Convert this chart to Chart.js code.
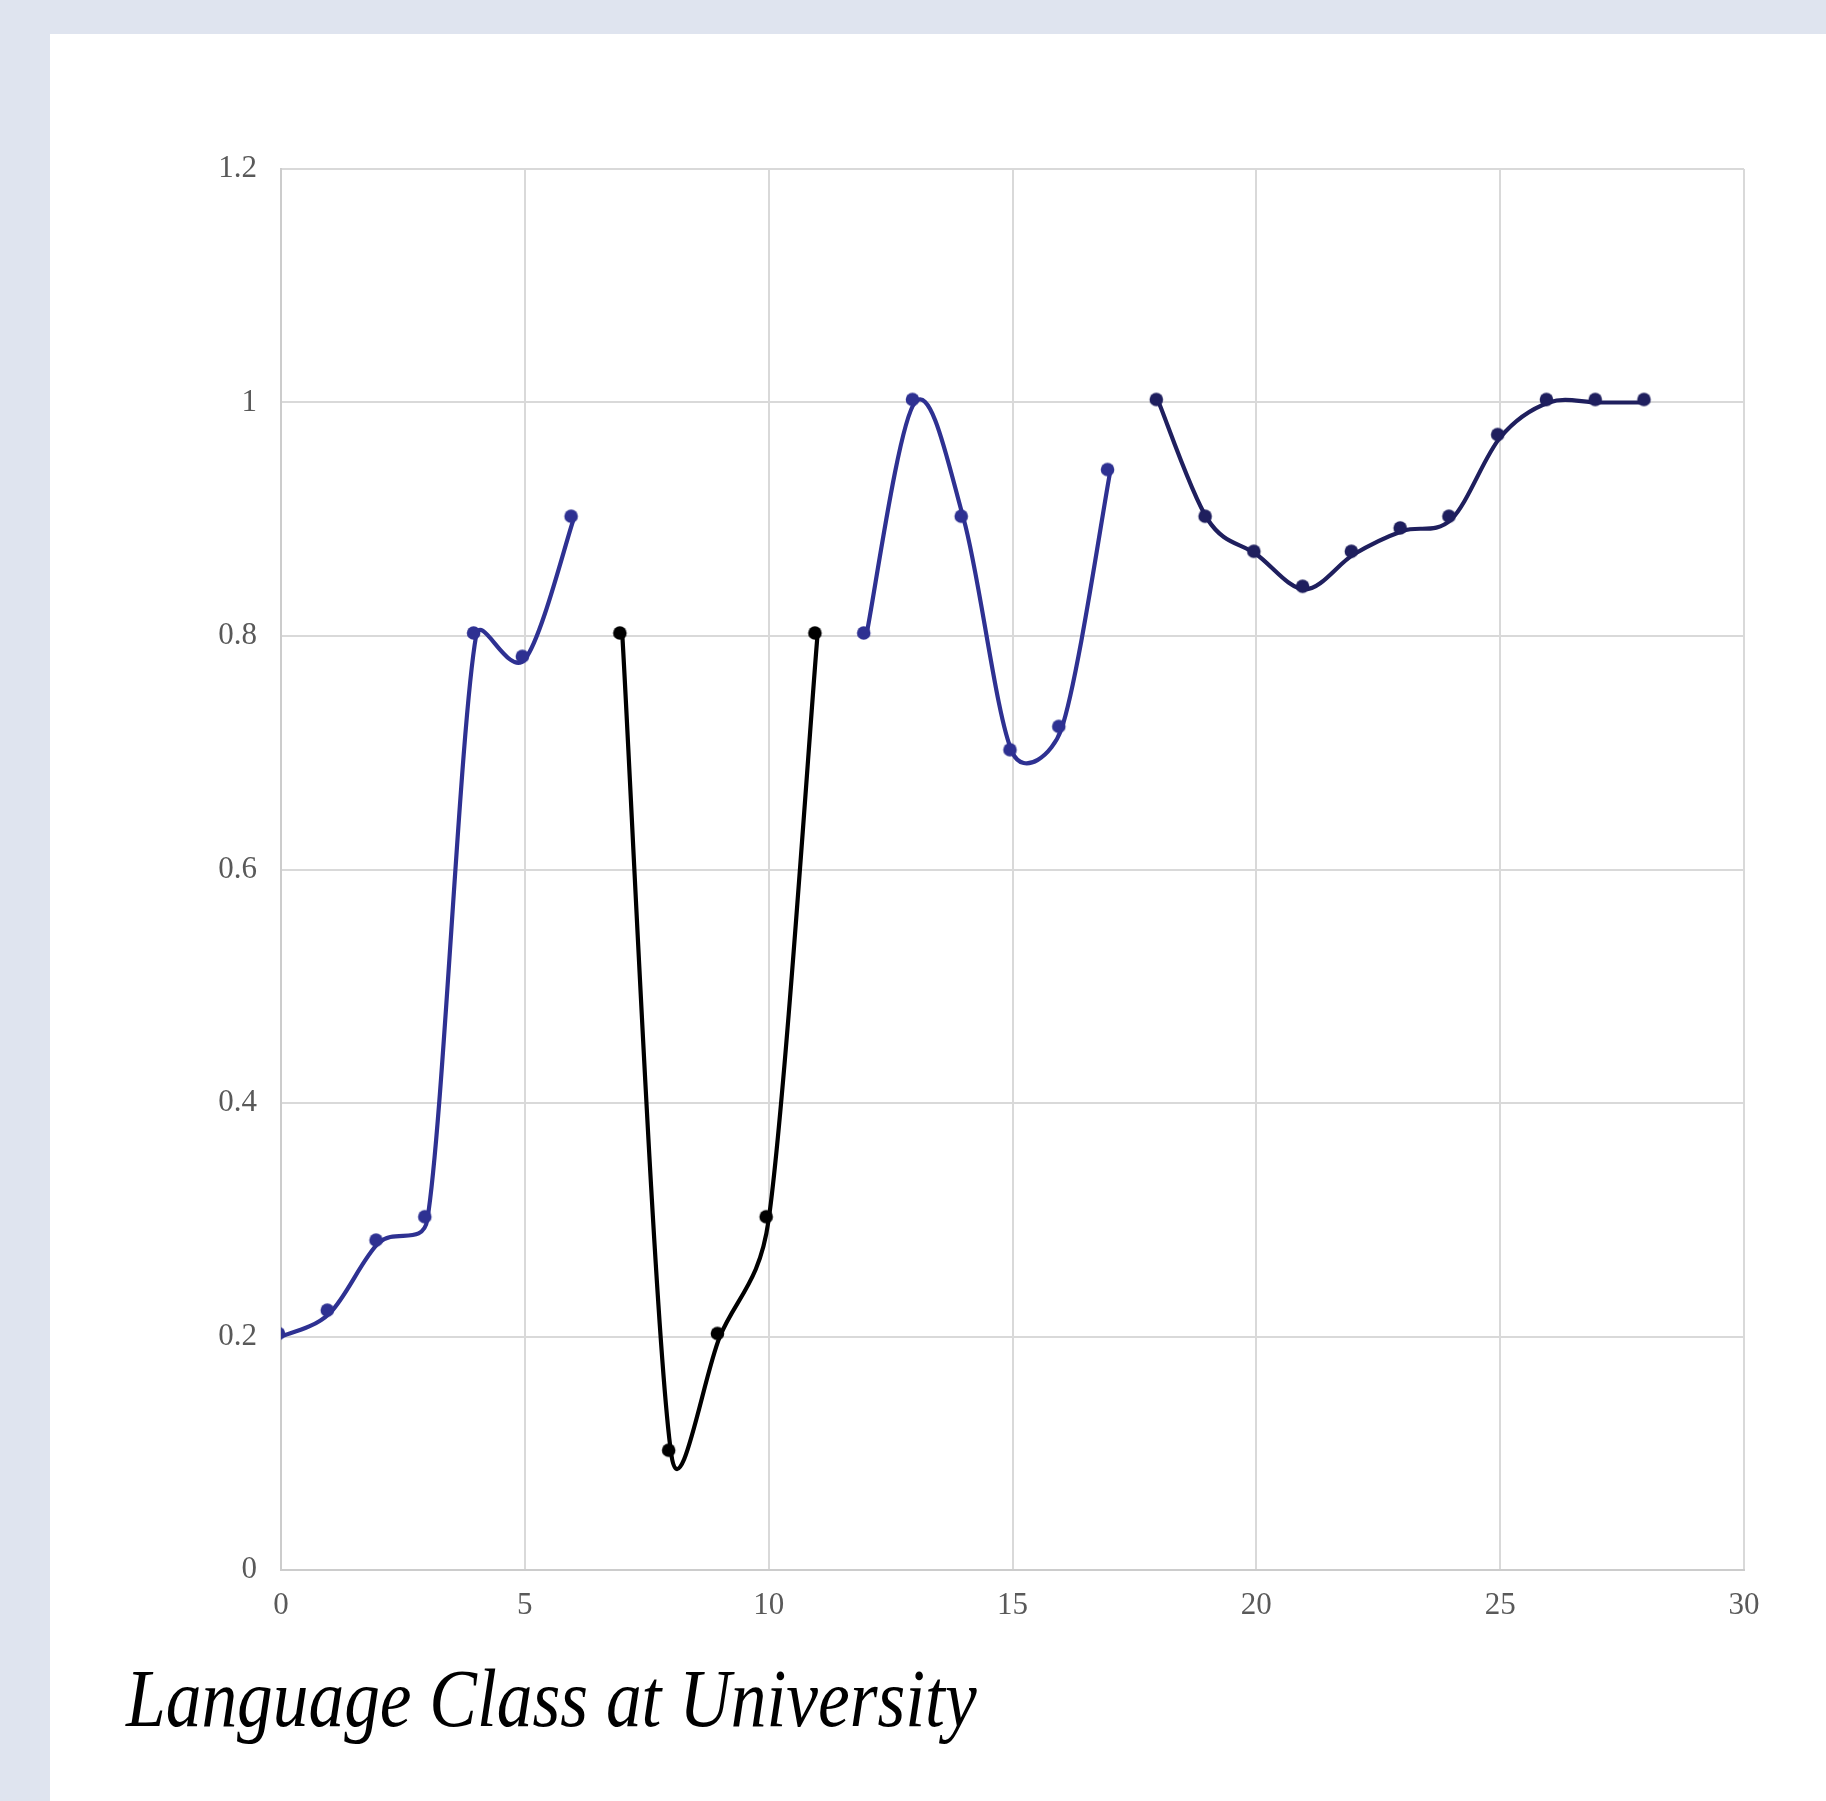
<!DOCTYPE html>
<html>
<head>
<meta charset="utf-8">
<script src="https://cdn.jsdelivr.net/npm/chart.js@4/dist/chart.umd.min.js"></script>
<style>
  html, body { margin: 0; padding: 0; }
  body { width: 1826px; height: 1801px; background: #DFE4EF; position: relative; overflow: hidden; }
  #panel { position: absolute; left: 50px; top: 34px; width: 1776px; height: 1767px; background: #FFFFFF; }
  #chart { display: block; }
</style>
</head>
<body>
<div id="panel"><canvas id="chart" width="1776" height="1767"></canvas></div>
<script>
// Lesson-by-lesson scores, split into four runs
const runAX = [0, 1, 2, 3, 4, 5, 6];
const runAY = [0.2, 0.22, 0.28, 0.3, 0.8, 0.78, 0.9];

const runBX = [7, 8, 9, 10, 11];
const runBY = [0.8, 0.1, 0.2, 0.3, 0.8];

const runCX = [12, 13, 14, 15, 16, 17];
const runCY = [0.8, 1.0, 0.9, 0.7, 0.72, 0.94];

const runDX = [18, 19, 20, 21, 22, 23, 24, 25, 26, 27, 28];
const runDY = [1.0, 0.9, 0.87, 0.84, 0.87, 0.89, 0.9, 0.97, 1.0, 1.0, 1.0];

const xTicks = [0, 5, 10, 15, 20, 25, 30];
const yTicks = [0, 0.2, 0.4, 0.6, 0.8, 1, 1.2];

const titleText = 'Language Class at University';

const SERIF = '"Liberation Serif", "DejaVu Serif", serif';

function points(xs, ys) {
  return xs.map((x, i) => ({ x: x, y: ys[i] }));
}

// Round marker sprite; the dot sits a little up and to the left of the anchor
function dotSprite(color) {
  const c = document.createElement('canvas');
  c.width = 30; c.height = 30;
  const g = c.getContext('2d');
  g.fillStyle = color;
  g.beginPath();
  g.arc(15 - 2.5, 15 - 3, 6.8, 0, Math.PI * 2);
  g.fill();
  return c;
}

function run(xs, ys, color) {
  return {
    data: points(xs, ys),
    borderColor: color,
    backgroundColor: color,
    borderWidth: 4.2,
    pointStyle: dotSprite(color),
    pointRadius: 7,
    pointHoverRadius: 7,
    pointBorderWidth: 0,
    tension: 0.4,
    fill: false
  };
}

function dist(a, b) {
  return Math.hypot(b.x - a.x, b.y - a.y);
}

// Office-style smoothing: Catmull-Rom handles (1/6 of the neighbour chord),
// each handle capped at half the length of the segment it belongs to.
const smoothLines = {
  id: 'smoothLines',
  beforeDatasetDraw(chart, args) {
    const meta = args.meta;
    const pts = meta.data;
    const n = pts.length;
    for (let i = 0; i < n; i++) {
      const p = pts[i];
      const prev = pts[Math.max(i - 1, 0)];
      const next = pts[Math.min(i + 1, n - 1)];
      const vx = next.x - prev.x;
      const vy = next.y - prev.y;
      const len = Math.hypot(vx, vy);
      let fIn = 1 / 6, fOut = 1 / 6;
      if (len > 0) {
        const dIn = dist(prev, p);
        const dOut = dist(p, next);
        if (len * fIn > dIn / 2) fIn = dIn / 2 / len;
        if (len * fOut > dOut / 2) fOut = dOut / 2 / len;
      }
      p.cp1x = p.x - fIn * vx; p.cp1y = p.y - fIn * vy;
      p.cp2x = p.x + fOut * vx; p.cp2y = p.y + fOut * vy;
    }
    if (meta.dataset) {
      meta.dataset._pointsUpdated = true;
      meta.dataset._path = undefined;
    }
  }
};

// Caption under the plot, set in a narrow italic serif
const caption = {
  id: 'caption',
  afterDraw(chart) {
    const ctx = chart.ctx;
    ctx.save();
    ctx.translate(76, 1692);
    ctx.scale(0.86, 1);
    ctx.fillStyle = '#000000';
    ctx.font = 'italic 83px ' + SERIF;
    ctx.textAlign = 'left';
    ctx.textBaseline = 'alphabetic';
    ctx.fillText(titleText, 0, 0);
    ctx.restore();
  }
};

const tickFont = { family: SERIF, size: 31 };

new Chart(document.getElementById('chart'), {
  type: 'line',
  data: {
    datasets: [
      run(runAX, runAY, '#2E3192'),
      run(runBX, runBY, '#000000'),
      run(runCX, runCY, '#2E3192'),
      run(runDX, runDY, '#1F1F5E')
    ]
  },
  plugins: [smoothLines, caption],
  options: {
    responsive: false,
    animation: false,
    events: [],
    layout: { padding: { left: 76, top: 135, right: 82, bottom: 161 } },
    plugins: {
      legend: { display: false },
      tooltip: { enabled: false },
      title: { display: false }
    },
    scales: {
      x: {
        type: 'linear',
        min: 0,
        max: 30,
        afterBuildTicks: (axis) => { axis.ticks = xTicks.map(v => ({ value: v })); },
        afterFit: (axis) => { axis.height = 70; },
        grid: { color: '#D9D9D9', lineWidth: 2, drawTicks: false },
        border: { color: '#CCCCCC', width: 2 },
        ticks: { color: '#595959', font: tickFont, padding: 17 }
      },
      y: {
        type: 'linear',
        min: 0,
        max: 1.2,
        afterBuildTicks: (axis) => { axis.ticks = yTicks.map(v => ({ value: v })); },
        afterFit: (axis) => { axis.width = 155; },
        grid: { color: '#D9D9D9', lineWidth: 2, drawTicks: false },
        border: { color: '#CCCCCC', width: 2 },
        ticks: { color: '#595959', font: tickFont, padding: 24, callback: (v) => String(v) }
      }
    }
  }
});
</script>
</body>
</html>
